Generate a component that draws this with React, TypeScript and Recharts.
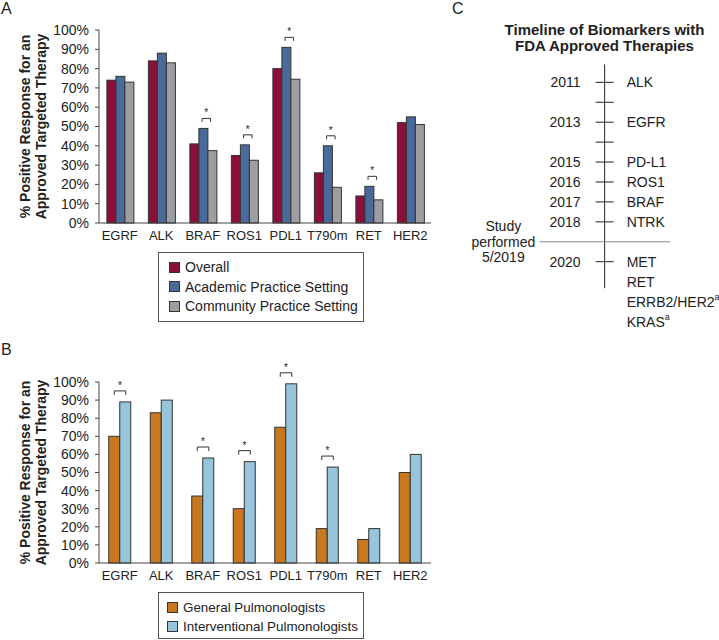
import React from 'react';
import { BarChart, Bar, XAxis, YAxis, ScatterChart, Scatter, ReferenceLine } from 'recharts';

// ---------- Data ----------
const categories = ['EGRF', 'ALK', 'BRAF', 'ROS1', 'PDL1', 'T790m', 'RET', 'HER2'];
const overall = [74, 84, 41, 35, 80, 26, 14, 52];
const academic = [76, 88, 49, 40.5, 91, 40, 19, 55];
const community = [73, 83, 37.5, 32.5, 74.5, 18.5, 12, 51];
const sigA = [false, false, true, true, true, true, true, false];

const general = [70, 83, 37, 30, 75, 19, 13, 50];
const interventional = [89, 90, 58, 56, 99, 53, 19, 60];
const sigB = [true, false, true, true, true, true, false, false];

const yTicks = [0, 10, 20, 30, 40, 50, 60, 70, 80, 90, 100];

const seriesA = ['Overall', 'Academic Practice Setting', 'Community Practice Setting'];
const seriesB = ['General Pulmonologists', 'Interventional Pulmonologists'];

const timelineSlots = [2011, 2012, 2013, 2014, 2015, 2016, 2017, 2018, 2020, 2021, 2022, 2023];
const timelineYears = ['2011', '', '2013', '', '2015', '2016', '2017', '2018', '2020', '', '', ''];
const timelineMarkers = ['ALK', '', 'EGFR', '', 'PD-L1', 'ROS1', 'BRAF', 'NTRK', 'MET', 'RET', 'ERRB2/HER2', 'KRAS'];
const timelineHasTick = [true, true, true, true, true, true, true, true, true, false, false, false];
const timelineFootnote = [false, false, false, false, false, false, false, false, false, false, true, true];
const studyDate = 2019;
const studyLabel = ['Study', 'performed', '5/2019'];
const timelineTitle = ['Timeline of Biomarkers with', 'FDA Approved Therapies'];
const yLabel = ['% Positive Response for an', 'Approved Targeted Therapy'];

// ---------- Styles ----------
const FONT = '"Liberation Sans", Arial, Helvetica, sans-serif';
const C_OVERALL = '#8a1039';
const C_ACADEMIC = '#4a6a9a';
const C_COMMUNITY = '#9d9ea2';
const C_GENERAL = '#c9781d';
const C_INTERV = '#96c5dc';
const OUTLINE = '#333';
const TEXT = '#222';
const colorsA = [C_OVERALL, C_ACADEMIC, C_COMMUNITY];
const colorsB = [C_GENERAL, C_INTERV];

const dataA = categories.map((c, i) => ({
  cat: c,
  overall: overall[i],
  academic: academic[i],
  community: community[i],
  sig: sigA[i],
}));
const dataB = categories.map((c, i) => ({
  cat: c,
  general: general[i],
  interventional: interventional[i],
  sig: sigB[i],
}));
const timelineData = timelineSlots.map((p, i) => ({
  x: 0.5,
  pos: p,
  year: timelineYears[i],
  marker: timelineMarkers[i],
  tick: timelineHasTick[i],
  foot: timelineFootnote[i],
}));

const PlainBar = (props: any) => {
  const { x, y, width, height, fill } = props;
  if (height <= 0) return null;
  return <rect x={x} y={y} width={width} height={height} fill={fill} stroke={OUTLINE} strokeWidth={1} />;
};

const Star = ({ x, y }: any) => (
  <text x={x} y={y} textAnchor="middle" fontSize={10} style={{ fill: TEXT, stroke: 'none' }} fontFamily={FONT}>*</text>
);

const BracketBarA = (props: any) => {
  const { x, y, width, height, fill, payload } = props;
  const x1 = x + width * 0.35;
  const x2 = x + width * 1.3;
  return (
    <g>
      <rect x={x} y={y} width={width} height={height} fill={fill} stroke={OUTLINE} strokeWidth={1} />
      {payload && payload.sig && (
        <g>
          <path d={`M${x1},${y - 6.5} L${x1},${y - 10} L${x2},${y - 10} L${x2},${y - 6.5}`} style={{ fill: 'none', stroke: '#333' }} strokeWidth={1} />
          <Star x={(x1 + x2) / 2} y={y - 12} />
        </g>
      )}
    </g>
  );
};

const BracketBarB = (props: any) => {
  const { x, y, width, height, fill, payload } = props;
  const x1 = x - width * 0.5;
  const x2 = x + width * 0.55;
  return (
    <g>
      <rect x={x} y={y} width={width} height={height} fill={fill} stroke={OUTLINE} strokeWidth={1} />
      {payload && payload.sig && (
        <g>
          <path d={`M${x1},${y - 7} L${x1},${y - 11} L${x2},${y - 11} L${x2},${y - 7}`} style={{ fill: 'none', stroke: '#333' }} strokeWidth={1} />
          <Star x={(x1 + x2) / 2} y={y - 13} />
        </g>
      )}
    </g>
  );
};

const YLabel = (props: any) => {
  const vb = props.viewBox || { x: 0, y: 0, width: 0, height: 0 };
  const cy = vb.y + vb.height / 2;
  const xs = [25, 41];
  return (
    <g>
      {yLabel.map((t, i) => (
        <text
          key={i}
          x={xs[i]}
          y={cy}
          transform={`rotate(-90, ${xs[i]}, ${cy})`}
          textAnchor="middle"
          dominantBaseline="central"
          fontWeight="bold"
          fontSize={14}
          fill={TEXT}
          fontFamily={FONT}
        >
          {t}
        </text>
      ))}
    </g>
  );
};

const TimelinePoint = (props: any) => {
  const { cx, cy, payload } = props;
  return (
    <g>
      {payload.tick && <line x1={cx - 9} x2={cx + 9} y1={cy} y2={cy} stroke="#222" strokeWidth={1} />}
      {payload.year && (
        <text x={cx - 24} y={cy} textAnchor="end" dominantBaseline="central" fontSize={14} fill={TEXT} fontFamily={FONT}>
          {payload.year}
        </text>
      )}
      {payload.marker && (
        <text x={cx + 22} y={cy} textAnchor="start" dominantBaseline="central" fontSize={14} fill={TEXT} fontFamily={FONT}>
          {payload.marker}
          {payload.foot && <tspan fontSize={9} dy={-5}>a</tspan>}
        </text>
      )}
    </g>
  );
};

const StudyLabel = (props: any) => {
  const vb = props.viewBox || { x: 0, y: 0 };
  const cx = vb.x - 36;
  const cy = vb.y;
  return (
    <g>
      {studyLabel.map((t, i) => (
        <text key={i} x={cx} y={cy + (i - 1) * 15.5} textAnchor="middle" dominantBaseline="central" fontSize={14} fill={TEXT} fontFamily={FONT}>
          {t}
        </text>
      ))}
    </g>
  );
};

const LegendBox = ({ left, top, width, height, names, colors, rowGap, padTop, padLeft, fontSize }: any) => (
  <div
    style={{
      position: 'absolute',
      left,
      top,
      width,
      height,
      border: '1px solid #555',
      boxSizing: 'border-box',
      fontFamily: FONT,
      fontSize,
      color: TEXT,
    }}
  >
    {names.map((n: string, i: number) => (
      <div key={n} style={{ position: 'absolute', left: padLeft, top: padTop + i * rowGap, height: 16, display: 'flex', alignItems: 'center', whiteSpace: 'nowrap' }}>
        <span style={{ display: 'inline-block', width: 9, height: 9, background: colors[i], border: '1px solid #333', marginRight: 5 }} />
        <span>{n}</span>
      </div>
    ))}
  </div>
);

const xTick = { fontSize: 13, fill: TEXT, fontFamily: FONT };
const yTick = { fontSize: 14, fill: TEXT, fontFamily: FONT };

export default function App() {
  return (
    <div style={{ position: 'absolute', left: 0, top: 0, width: 719, height: 640, background: '#fff', fontFamily: FONT, overflow: 'hidden' }}>
      <div style={{ position: 'absolute', left: 1, top: 0, fontSize: 16, color: TEXT }}>A</div>
      <div style={{ position: 'absolute', left: 1, top: 341, fontSize: 16, color: TEXT }}>B</div>
      <div style={{ position: 'absolute', left: 452, top: 0, fontSize: 16, color: TEXT }}>C</div>

      {/* Panel A */}
      <div style={{ position: 'absolute', left: 0, top: 0 }}>
        <BarChart width={440} height={330} data={dataA} margin={{ top: 30, right: 9, bottom: 77, left: 0 }} barCategoryGap="19%" barGap={0}>
          <XAxis dataKey="cat" height={30} tickLine={false} axisLine={{ stroke: '#444' }} tick={xTick} interval={0} />
          <YAxis
            width={99}
            domain={[0, 100]}
            ticks={yTicks}
            tickFormatter={(v: number) => `${v}%`}
            tickSize={4}
            tickMargin={6}
            tick={yTick}
            axisLine={{ stroke: '#444' }}
            tickLine={{ stroke: '#444' }}
            interval={0}
            label={{ content: YLabel }}
          />
          <Bar dataKey="overall" name={seriesA[0]} fill={C_OVERALL} shape={PlainBar} isAnimationActive={false} />
          <Bar dataKey="academic" name={seriesA[1]} fill={C_ACADEMIC} shape={BracketBarA} isAnimationActive={false} />
          <Bar dataKey="community" name={seriesA[2]} fill={C_COMMUNITY} shape={PlainBar} isAnimationActive={false} />
        </BarChart>
      </div>
      <LegendBox left={158} top={252} width={206} height={70} names={seriesA} colors={colorsA} rowGap={19.7} padTop={6} padLeft={10} fontSize={14} />

      {/* Panel B */}
      <div style={{ position: 'absolute', left: 0, top: 352 }}>
        <BarChart width={440} height={288} data={dataB} margin={{ top: 30, right: 9, bottom: 47, left: 0 }} barCategoryGap="23.5%" barGap={0}>
          <XAxis dataKey="cat" height={30} tickLine={false} axisLine={{ stroke: '#444' }} tick={xTick} interval={0} />
          <YAxis
            width={99}
            domain={[0, 100]}
            ticks={yTicks}
            tickFormatter={(v: number) => `${v}%`}
            tickSize={4}
            tickMargin={6}
            tick={yTick}
            axisLine={{ stroke: '#444' }}
            tickLine={{ stroke: '#444' }}
            interval={0}
            label={{ content: YLabel }}
          />
          <Bar dataKey="general" name={seriesB[0]} fill={C_GENERAL} shape={PlainBar} isAnimationActive={false} />
          <Bar dataKey="interventional" name={seriesB[1]} fill={C_INTERV} shape={BracketBarB} isAnimationActive={false} />
        </BarChart>
      </div>
      <LegendBox left={158} top={592} width={206} height={47} names={seriesB} colors={colorsB} rowGap={19.5} padTop={6} padLeft={8} fontSize={13.4} />

      {/* Panel C */}
      <div style={{ position: 'absolute', left: 450, top: 22, width: 269, textAlign: 'center', fontWeight: 'bold', fontSize: 15, lineHeight: '16px', color: TEXT, whiteSpace: 'nowrap' }}>
        <div style={{ paddingLeft: 40 }}>{timelineTitle[0]}</div>
        <div style={{ paddingLeft: 40 }}>{timelineTitle[1]}</div>
      </div>
      <div style={{ position: 'absolute', left: 450, top: 0 }}>
        <ScatterChart width={269} height={340} margin={{ top: 62.4, right: 49, bottom: 18.5, left: 89.3 }}>
          <XAxis type="number" dataKey="x" domain={[0, 1]} hide height={0} />
          <YAxis type="number" dataKey="pos" domain={[2010, 2023]} reversed hide width={0} />
          <ReferenceLine segment={[{ x: 0.5, y: 2010.1 }, { x: 0.5, y: 2021.33 }]} stroke="#222" strokeWidth={1} />
          <ReferenceLine y={studyDate} stroke="#888" strokeWidth={1} label={{ content: StudyLabel }} />
          <Scatter data={timelineData} shape={TimelinePoint} isAnimationActive={false} />
        </ScatterChart>
      </div>
    </div>
  );
}
